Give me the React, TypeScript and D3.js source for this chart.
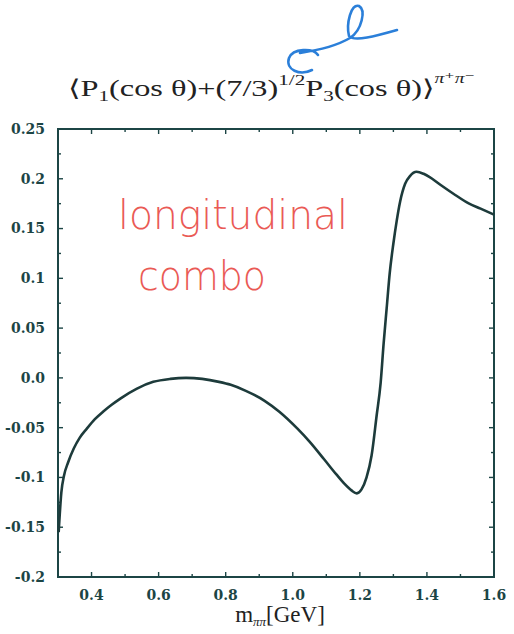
import { useMemo } from 'react'
import * as d3 from 'd3'

const W = 514
const H = 634
const PLOT = { left: 58, right: 494, top: 129, bottom: 577 }

// m_pipi [GeV] and moment value
const massGeV = [
  0.302, 0.31, 0.318, 0.33, 0.347, 0.365, 0.386, 0.41, 0.436, 0.46, 0.487, 0.534, 0.584, 0.635,
  0.682, 0.73, 0.78, 0.815, 0.86, 0.916, 0.96, 1.014, 1.05, 1.094, 1.13, 1.153, 1.175, 1.191,
  1.205, 1.22, 1.235, 1.25, 1.262, 1.271, 1.28, 1.289, 1.3, 1.31, 1.32, 1.335, 1.35, 1.369,
  1.39, 1.407, 1.44, 1.479, 1.526, 1.56, 1.6,
]
const momentValue = [
  -0.155, -0.115, -0.098, -0.085, -0.071, -0.06, -0.051, -0.0415, -0.0335, -0.027, -0.0205,
  -0.011, -0.004, -0.001, 0.0, -0.001, -0.004, -0.007, -0.013, -0.023, -0.034, -0.051, -0.064,
  -0.082, -0.097, -0.106, -0.113, -0.116, -0.112, -0.1, -0.078, -0.038, -0.005, 0.035, 0.07,
  0.105, 0.135, 0.158, 0.177, 0.195, 0.203, 0.207, 0.205, 0.202, 0.194, 0.185, 0.175, 0.17,
  0.164,
]

const xTicks = [0.4, 0.6, 0.8, 1.0, 1.2, 1.4, 1.6]
const xTickLabels = ['0.4', '0.6', '0.8', '1.0', '1.2', '1.4', '1.6']
const yTicks = [0.25, 0.2, 0.15, 0.1, 0.05, 0.0, -0.05, -0.1, -0.15, -0.2]
const yTickLabels = ['0.25', '0.2', '0.15', '0.1', '0.05', '0.0', '-0.05', '-0.1', '-0.15', '-0.2']

const INK = '#1c4545'
const SERIF = '"DejaVu Serif", "Liberation Serif", serif'
const TITLE_FONT = '"Liberation Serif", "DejaVu Serif", serif'

const App = () => {
  const x = useMemo(() => d3.scaleLinear().domain([0.3, 1.6]).range([PLOT.left, PLOT.right]), [])
  const y = useMemo(() => d3.scaleLinear().domain([-0.2, 0.25]).range([PLOT.bottom, PLOT.top]), [])

  const points = massGeV.map((m, i) => [m, momentValue[i]] as [number, number])
  const linePath = d3
    .line<[number, number]>()
    .x((d) => x(d[0]))
    .y((d) => y(d[1]))
    .curve(d3.curveMonotoneX)(points)

  const xMinor = d3.range(0.3, 1.6001, 0.1)
  const yMinor = d3.range(-0.2, 0.2501, 0.025)

  return (
    <div style={{ position: 'absolute', left: 0, top: 0 }}>
      <svg width={W} height={H} style={{ display: 'block', background: '#fff' }}>
        {/* title, stretched like the scanned original */}
        <text
          x={68}
          y={96}
          fontFamily={TITLE_FONT}
          fontSize={23}
          fill="#222"
          textLength={407}
          lengthAdjust="spacingAndGlyphs"
        >
          ⟨P<tspan fontSize={15} dy={5}>1</tspan>
          <tspan dy={-5}>(cos θ)+(7/3)</tspan>
          <tspan fontSize={15} dy={-11}>1/2</tspan>
          <tspan dy={11}>P</tspan>
          <tspan fontSize={15} dy={5}>3</tspan>
          <tspan dy={-5}>(cos θ)⟩</tspan>
          <tspan fontSize={14} fontStyle="italic" dy={-13}>π⁺π⁻</tspan>
        </text>

        {/* blue handwritten mark */}
        <path
          d="M312 70 C300 76 285 70 289 58 C293 48 313 48 318 55 M300 53 C320 50 338 45 350 38 C362 30 366 10 359 6 C351 3 346 24 349 36 C354 42 376 36 397 30"
          fill="none"
          stroke="#2b7fd9"
          strokeWidth={2.6}
          strokeLinecap="round"
        />

        {/* frame */}
        <rect
          x={PLOT.left}
          y={PLOT.top}
          width={PLOT.right - PLOT.left}
          height={PLOT.bottom - PLOT.top}
          fill="none"
          stroke={INK}
          strokeWidth={2}
        />

        {/* x ticks */}
        {xMinor.map((v, i) => {
          const major = i % 2 === 1
          const len = major ? 5 : 3
          return (
            <g key={`xt${i}`} stroke={INK} strokeWidth={1.4}>
              <line x1={x(v)} x2={x(v)} y1={PLOT.bottom} y2={PLOT.bottom - len} />
              <line x1={x(v)} x2={x(v)} y1={PLOT.top} y2={PLOT.top + len} />
            </g>
          )
        })}
        {/* y ticks */}
        {yMinor.map((v, i) => {
          const major = i % 2 === 0
          const len = major ? 5 : 3
          return (
            <g key={`yt${i}`} stroke={INK} strokeWidth={1.4}>
              <line x1={PLOT.left} x2={PLOT.left + len} y1={y(v)} y2={y(v)} />
              <line x1={PLOT.right} x2={PLOT.right - len} y1={y(v)} y2={y(v)} />
            </g>
          )
        })}

        {xTicks.map((v, i) => (
          <text
            key={`xl${i}`}
            x={x(v)}
            y={600}
            textAnchor="middle"
            fontFamily={SERIF}
            fontSize={14}
            fontWeight="bold"
            fill={INK}
          >
            {xTickLabels[i]}
          </text>
        ))}
        {yTicks.map((v, i) => (
          <text
            key={`yl${i}`}
            x={45}
            y={y(v)}
            dy="0.35em"
            textAnchor="end"
            fontFamily={SERIF}
            fontSize={14}
            fontWeight="bold"
            fill={INK}
          >
            {yTickLabels[i]}
          </text>
        ))}

        {/* x axis title */}
        <text x={280} y={622} textAnchor="middle" fontFamily={TITLE_FONT} fontSize={23} fill="#222">
          m<tspan fontSize={13} fontStyle="italic" dy={4}>ππ</tspan>
          <tspan dy={-4}>[GeV]</tspan>
        </text>

        {/* curve */}
        <path d={linePath ?? ''} fill="none" stroke="#1d3b3b" strokeWidth={2.6} />

        {/* red handwritten note */}
        <text
          x={118}
          y={229}
          fontFamily='"DejaVu Sans", sans-serif'
          fontWeight={200}
          fontSize={40}
          fill="#ea5a55"
          textLength={230}
          lengthAdjust="spacingAndGlyphs"
        >
          longitudinal
        </text>
        <text
          x={138}
          y={290}
          fontFamily='"DejaVu Sans", sans-serif'
          fontWeight={200}
          fontSize={40}
          fill="#ea5a55"
          textLength={128}
          lengthAdjust="spacingAndGlyphs"
        >
          combo
        </text>
      </svg>
    </div>
  )
}

export default App
